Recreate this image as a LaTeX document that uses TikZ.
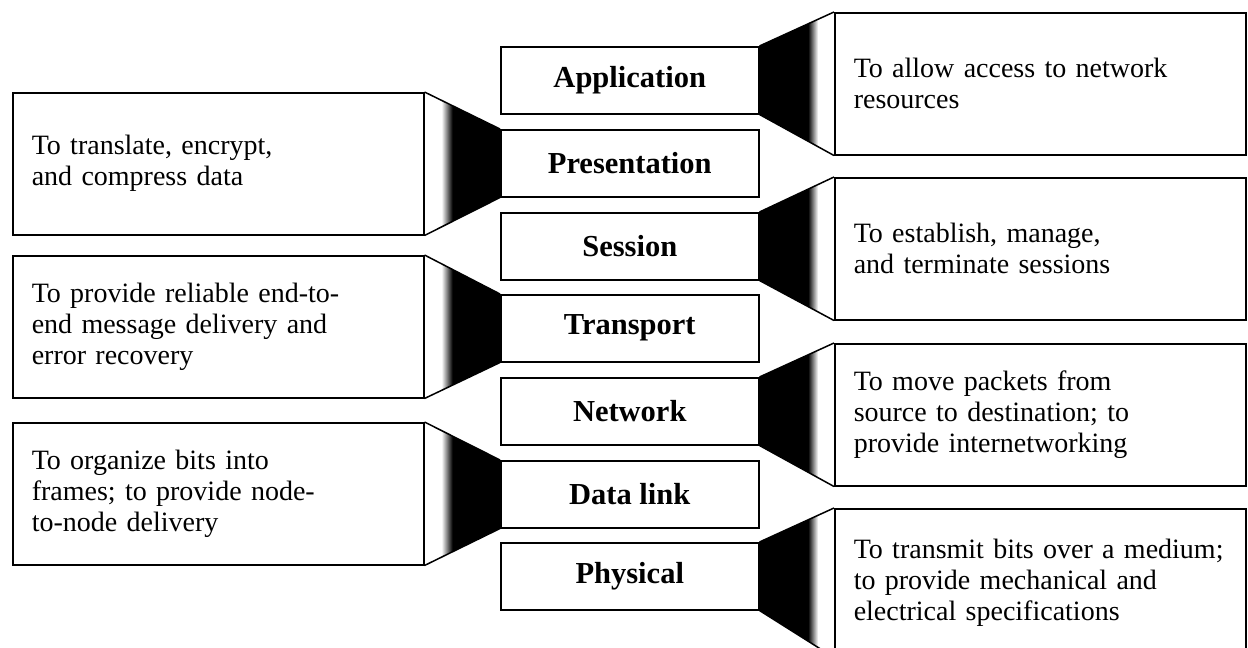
\documentclass[tikz,border=0pt]{standalone}
\usepackage{fontspec}
\setmainfont{Liberation Serif}
\newcommand\myconnL[2]{% #1 description (left), #2 layer
  \begin{scope}
    \clip (#1.north east) -- (#2.north west) -- (#2.south west) -- (#1.south east) -- cycle;
    \fill[black] (#1.north east) rectangle (#2.west |- #1.south);
    \fill[white] (#1.north east) rectangle ([xshift=18pt]#1.south east);
    \shade[left color=white, right color=black] ([xshift=17pt]#1.north east) rectangle ([xshift=28pt]#1.south east);
  \end{scope}
  \draw[conn] (#1.north east) -- (#2.north west);
  \draw[conn] (#1.south east) -- (#2.south west);
}
\newcommand\myconnR[2]{% #1 layer, #2 description (right)
  \begin{scope}
    \clip (#1.north east) -- (#2.north west) -- (#2.south west) -- (#1.south east) -- cycle;
    \fill[black] (#1.east |- #2.north) rectangle (#2.south west);
    \fill[white] ([xshift=-17pt]#2.north west) rectangle (#2.south west);
    \shade[left color=black, right color=white] ([xshift=-26pt]#2.north west) rectangle ([xshift=-16pt]#2.south west);
  \end{scope}
  \draw[conn] (#1.north east) -- (#2.north west);
  \draw[conn] (#1.south east) -- (#2.south west);
}
\begin{document}
\begin{tikzpicture}[x=1pt, y=-1pt,
  layer/.style={draw, line width=1.5pt, fill=white, minimum width=258pt, minimum height=67pt,
    inner sep=0pt, anchor=north west, font=\fontsize{30.5}{34}\selectfont\bfseries},
  desc/.style={draw, line width=1.5pt, fill=white, minimum width=411pt, minimum height=142pt,
    inner sep=0pt, anchor=north west, align=left, text width=373pt,
    font=\fontsize{28}{31}\selectfont},
  conn/.style={line width=1.5pt}]
\useasboundingbox (0,0) rectangle (1248,648);
\fill[white] (0,0) rectangle (1248,648);
\begin{scope}
\clip (0,0) rectangle (1248,648);
% OSI layers
\node[layer] (app)  at (500,46)  {Application};
\node[layer] (pres) at (500,129) {Presentation};
\node[layer] (sess) at (500,212) {Session};
\node[layer] (trans) at (500,294) {Transport};
\node[layer] (net)  at (500,377) {Network};
\node[layer] (dl)   at (500,460) {Data link};
\node[layer] (phys) at (500,542) {Physical};
% left descriptions
\node[desc] (presd)  at (12,92)  {To translate, encrypt,\\and compress data};
\node[desc] (transd) at (12,255) {To provide reliable end-to-\\end message delivery and\\error recovery};
\node[desc] (dld)    at (12,422) {To organize bits into\\frames; to provide node-\\to-node delivery};
% right descriptions
\node[desc] (appd)  at (834,12)  {To allow access to network\\resources};
\node[desc] (sessd) at (834,177) {To establish, manage,\\and terminate sessions};
\node[desc] (netd)  at (834,343) {To move packets from\\source to destination; to\\provide internetworking};
\node[desc, minimum height=148pt] (physd) at (834,508) {To transmit bits over a medium;\\to provide mechanical and\\electrical specifications};
% connectors
\myconnL{presd}{pres}
\myconnL{transd}{trans}
\myconnL{dld}{dl}
\myconnR{app}{appd}
\myconnR{sess}{sessd}
\myconnR{net}{netd}
\myconnR{phys}{physd}
\end{scope}
\end{tikzpicture}
\end{document}
